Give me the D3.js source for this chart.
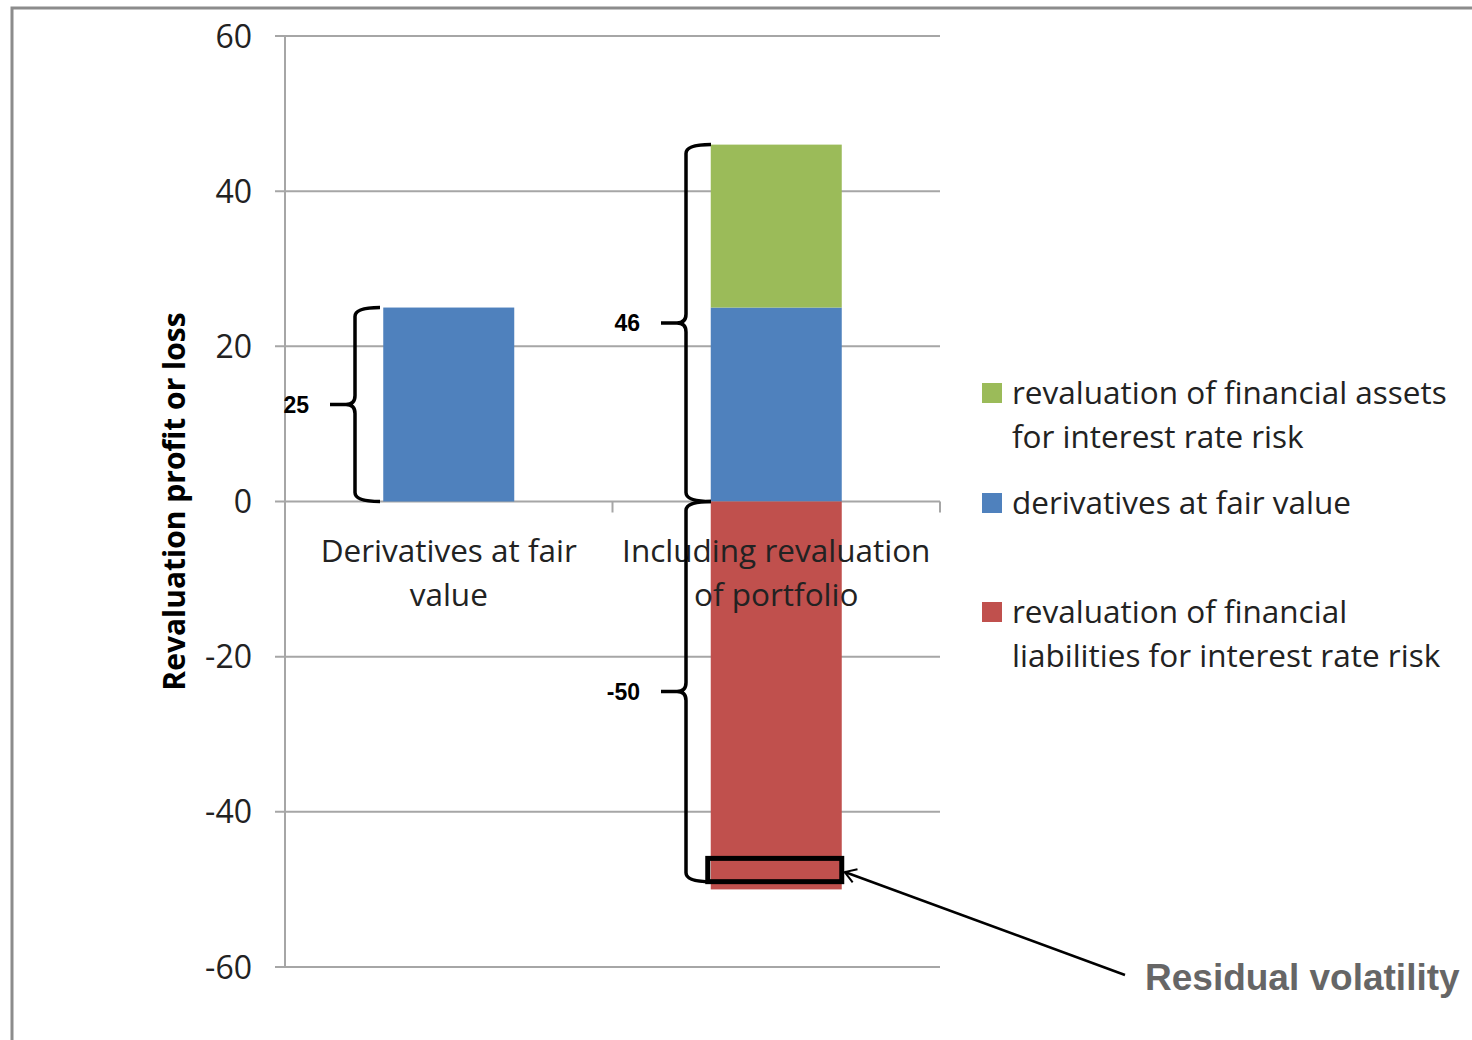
<!DOCTYPE html>
<html>
<head>
<meta charset="utf-8">
<script src="https://cdn.jsdelivr.net/npm/d3@7"></script>
<style>
  body { margin: 0; background: #fff; }
  text { font-family: "Open Sans", sans-serif; fill: #222; }
</style>
</head>
<body>
<svg id="chart"></svg>
<script>
const width = 1472;
const height = 1040;

// data
const categories = ['Derivatives at fair value', 'Including revaluation of portfolio'];
const categoryLines = [['Derivatives at fair', 'value'], ['Including revaluation', 'of portfolio']];
const assets = [0, 21];
const derivatives = [25, 25];
const liabilities = [0, -50];
const residual = [-46, -49];
const yTicks = [-60, -40, -20, 0, 20, 40, 60];
const seriesNames = ['assets', 'derivatives', 'liabilities'];
const legendLines = [
  ['revaluation of financial assets', 'for interest rate risk'],
  ['derivatives at fair value'],
  ['revaluation of financial', 'liabilities for interest rate risk'],
];
const colors = { assets: '#9BBB59', derivatives: '#4F81BD', liabilities: '#C0504D' };

const chart = d3.select('#chart').attr('width', width).attr('height', height);

// outer frame (only top and left show)
chart.append('path')
  .attr('d', `M12,${height} L12,8 L${width},8`)
  .attr('fill', 'none').attr('stroke', '#8c8c8c').attr('stroke-width', 3);

const y = d3.scaleLinear().domain([-60, 60]).range([967, 36]);
const x = d3.scaleBand().domain(categories).range([285, 940]);
const barWidth = x.bandwidth() * 0.4;

// grid lines
chart.append('g').selectAll('line')
    .data(yTicks)
  .enter().append('line')
    .attr('x1', 275).attr('x2', 940)
    .attr('y1', (d) => y(d)).attr('y2', (d) => y(d))
    .attr('stroke', '#a6a6a6').attr('stroke-width', 2);

// y axis
chart.append('line')
  .attr('x1', 285).attr('x2', 285).attr('y1', y(60)).attr('y2', y(-60))
  .attr('stroke', '#a6a6a6').attr('stroke-width', 2);

chart.append('g').selectAll('text')
    .data(yTicks)
  .enter().append('text')
    .attr('x', 252).attr('y', (d) => y(d))
    .attr('dy', '0.36em')
    .attr('text-anchor', 'end')
    .style('font-size', '32px')
    .text((d) => d);

// category tick marks on the zero line
chart.append('g').selectAll('line')
    .data(categories.map((c) => x(c) + x.bandwidth()))
  .enter().append('line')
    .attr('x1', (d) => d).attr('x2', (d) => d)
    .attr('y1', y(0)).attr('y2', y(0) + 11)
    .attr('stroke', '#a6a6a6').attr('stroke-width', 2);

// stacked bars
const rows = categories.map((c, i) => ({
  cat: c, assets: assets[i], derivatives: derivatives[i], liabilities: liabilities[i],
}));
const stack = d3.stack().keys(['derivatives', 'assets', 'liabilities']).offset(d3.stackOffsetDiverging);
const layers = stack(rows);

chart.append('g').selectAll('g')
    .data(layers)
  .enter().append('g')
    .attr('fill', (d) => colors[d.key])
  .selectAll('rect')
    .data((d) => d.filter((s) => s[1] !== s[0]))
  .enter().append('rect')
    .attr('x', (d) => x(d.data.cat) + (x.bandwidth() - barWidth) / 2)
    .attr('width', barWidth)
    .attr('y', (d) => y(Math.max(d[0], d[1])))
    .attr('height', (d) => Math.abs(y(d[0]) - y(d[1])));

// category labels
categories.forEach((c, i) => {
  const t = chart.append('text')
    .attr('text-anchor', 'middle')
    .style('font-size', '31.5px');
  categoryLines[i].forEach((line, j) => {
    t.append('tspan')
      .attr('x', x(c) + x.bandwidth() / 2)
      .attr('y', 562 + j * 44)
      .text(line);
  });
});

// y axis title
chart.append('text')
  .attr('transform', `translate(185, ${y(0)}) rotate(-90)`)
  .attr('text-anchor', 'middle')
  .style('font-size', '30px').style('font-weight', 'bold')
  .style('fill', '#000')
  .text('Revaluation profit or loss');

// curly braces
function bracePath(xv, y0, y1, endOff, tipOff) {
  const r = 9;
  const ym = (y0 + y1) / 2;
  const xe = xv + endOff;
  const xt = xv - tipOff;
  return `M${xe},${y0} Q${xv},${y0} ${xv},${y0 + r}` +
    ` L${xv},${ym - r} Q${xv},${ym} ${xv - r},${ym} L${xt},${ym}` +
    ` M${xv - r},${ym} Q${xv},${ym} ${xv},${ym + r}` +
    ` L${xv},${y1 - r} Q${xv},${y1} ${xe},${y1}`;
}

const pos = assets[1] + derivatives[1];
const braces = [
  { xv: 355, top: derivatives[0], bottom: 0, label: derivatives[0] },
  { xv: 686, top: pos, bottom: 0, label: pos },
  { xv: 686, top: 0, bottom: residual[1], label: liabilities[1] },
];

braces.forEach((b) => {
  const y0 = y(b.top);
  const y1 = y(b.bottom);
  chart.append('path')
    .attr('d', bracePath(b.xv, y0, y1, 25, 25))
    .attr('fill', 'none').attr('stroke', '#000').attr('stroke-width', 3.5);
  chart.append('text')
    .attr('x', b.xv - 46).attr('y', (y0 + y1) / 2)
    .attr('dy', '0.36em')
    .attr('text-anchor', 'end')
    .style('font-family', '"Liberation Sans", Arial, sans-serif')
    .style('font-size', '23px').style('font-weight', 'bold')
    .style('fill', '#000')
    .text(b.label);
});

// residual volatility box
const boxX = x(categories[1]) + (x.bandwidth() - barWidth) / 2 - 3;
chart.append('rect')
  .attr('x', boxX).attr('width', barWidth + 3)
  .attr('y', y(residual[0])).attr('height', y(residual[1]) - y(residual[0]))
  .attr('fill', 'none').attr('stroke', '#000').attr('stroke-width', 5);

// arrow
chart.append('defs').append('marker')
    .attr('id', 'arrow')
    .attr('viewBox', '-12 -8 14 16')
    .attr('refX', 0).attr('refY', 0)
    .attr('markerWidth', 14).attr('markerHeight', 16)
    .attr('markerUnits', 'userSpaceOnUse')
    .attr('orient', 'auto')
  .append('path')
    .attr('d', 'M-11,-7 L0,0 L-11,7')
    .attr('fill', 'none').attr('stroke', '#000').attr('stroke-width', 2);

chart.append('line')
  .attr('x1', 1125).attr('y1', 975)
  .attr('x2', boxX + barWidth + 6).attr('y2', (y(residual[0]) + y(residual[1])) / 2 + 2)
  .attr('stroke', '#000').attr('stroke-width', 2.5)
  .attr('marker-end', 'url(#arrow)');

chart.append('text')
  .attr('x', 1145).attr('y', 990)
  .style('font-family', '"Liberation Sans", Arial, sans-serif')
  .style('font-size', '37px').style('font-weight', 'bold')
  .style('fill', '#666')
  .text('Residual volatility');

// legend
const legendY = [393, 503, 612];
const legend = chart.append('g');
seriesNames.forEach((s, i) => {
  legend.append('rect')
    .attr('x', 982).attr('y', legendY[i] - 10)
    .attr('width', 20).attr('height', 20)
    .attr('fill', colors[s]);
  const t = legend.append('text').style('font-size', '31.5px');
  legendLines[i].forEach((line, j) => {
    t.append('tspan')
      .attr('x', 1012)
      .attr('y', legendY[i] + j * 44)
      .attr('dy', '0.36em')
      .text(line);
  });
});
</script>
</body>
</html>
